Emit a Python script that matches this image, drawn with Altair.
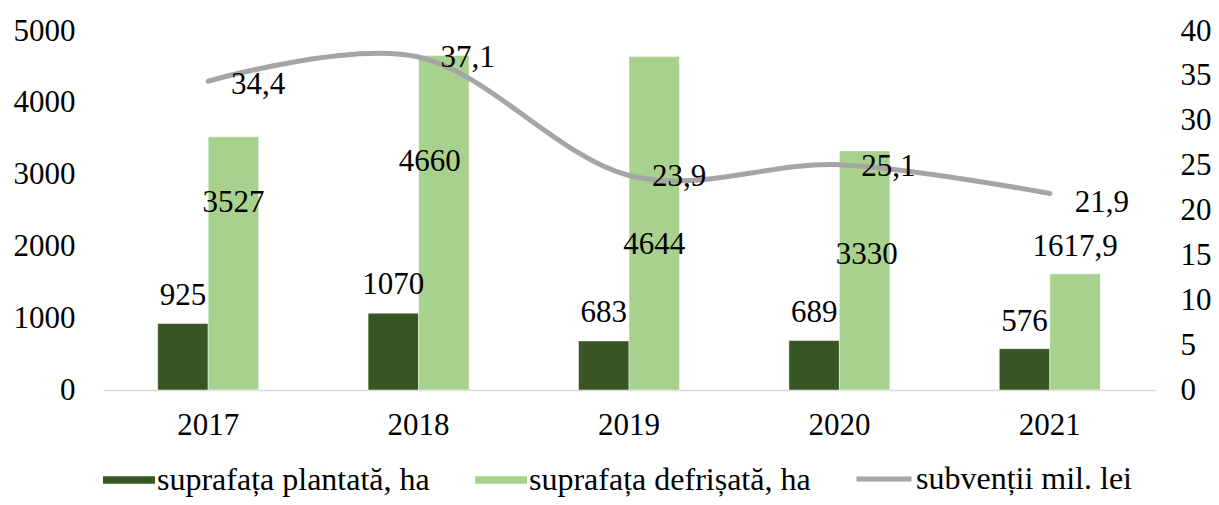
import altair as alt
import pandas as pd

years = ["2017", "2018", "2019", "2020", "2021"]
plantata = [925, 1070, 683, 689, 576]
defrisata = [3527, 4660, 4644, 3330, 1617.9]
subventii = [34.4, 37.1, 23.9, 25.1, 21.9]

s_plant = "suprafața plantată, ha"
s_defr = "suprafața defrișată, ha"
s_sub = "subvenții mil. lei"

# label offsets (pixels), as placed in the original
plant_dy = [-28, -28, -28, -28, -27]
defr_dy = [66, 107, 188, 104, -27]
defr_dx = [0, -14, 0, 2, 0]
sub_dy = [4, 1, 2, 2, 10]
sub_dx = [50, 49, 50, 49, 52]


def fmt(v):
    s = f"{v:g}"
    return s.replace(".", ",")


rows = []
for i, y in enumerate(years):
    rows.append({"year": y, "series": s_plant, "value": plantata[i],
                 "label": fmt(plantata[i]), "ldy": plant_dy[i], "ldx": 0})
for i, y in enumerate(years):
    rows.append({"year": y, "series": s_defr, "value": defrisata[i],
                 "label": fmt(defrisata[i]), "ldy": defr_dy[i], "ldx": defr_dx[i]})
bars_df = pd.DataFrame(rows)

line_df = pd.DataFrame({
    "year": years,
    "series": [s_sub] * len(years),
    "value": subventii,
    "label": [fmt(v) for v in subventii],
    "ldy": sub_dy,
    "ldx": sub_dx,
})

FONT = "Liberation Serif"
FS = 31
LFS = 32

x_enc = alt.X("year:N", sort=years,
              scale=alt.Scale(paddingInner=0.52, paddingOuter=0.26),
              axis=alt.Axis(title=None, labelAngle=0, ticks=False, domain=True,
                            domainColor="#D9D9D9", domainWidth=1.5,
                            labelPadding=20, labelFontSize=FS, labelFont=FONT,
                            labelColor="#000000", grid=False))

rect_path = "M-1,-0.145L1,-0.145L1,0.145L-1,0.145Z"
bar_legend = alt.Legend(
    title=None, orient="none", legendX=0, legendY=423, direction="horizontal",
    labelFont=FONT, labelFontSize=LFS, labelColor="#000000",
    symbolType=rect_path, symbolSize=2704, symbolStrokeWidth=0, symbolOpacity=1,
    labelOffset=2, columnPadding=45, padding=0, labelLimit=600,
)
line_legend = alt.Legend(
    title=None, orient="none", legendX=751, legendY=418, direction="horizontal",
    labelFont=FONT, labelFontSize=LFS, labelColor="#000000",
    symbolType="stroke", symbolSize=3025, symbolStrokeWidth=5, symbolOpacity=1,
    labelOffset=2, padding=0, labelLimit=600,
)

y_left = alt.Y("value:Q", scale=alt.Scale(domain=[0, 5000], nice=False),
               axis=alt.Axis(title=None, orient="left", values=[0, 1000, 2000, 3000, 4000, 5000],
                             format="d", domain=False, ticks=False, grid=False, labelPadding=28,
                             labelFontSize=FS, labelFont=FONT, labelColor="#000000"))

y_right = alt.Y("value:Q", scale=alt.Scale(domain=[0, 40], nice=False),
                axis=alt.Axis(title=None, orient="right", values=[0, 5, 10, 15, 20, 25, 30, 35, 40],
                              format="d", domain=False, ticks=False, grid=False, labelPadding=25,
                              labelFontSize=FS, labelFont=FONT, labelColor="#000000"))

xoff = alt.XOffset("series:N", sort=[s_plant, s_defr],
                   scale=alt.Scale(domain=[s_plant, s_defr], paddingInner=0, paddingOuter=0))

bars = alt.Chart(bars_df).mark_bar(stroke="#FFFFFF", strokeWidth=0.8, strokeOpacity=0.6).encode(
    x=x_enc,
    xOffset=xoff,
    y=y_left,
    fill=alt.Fill("series:N", scale=alt.Scale(domain=[s_plant, s_defr],
                                              range=["#375623", "#A9D18E"]),
                  legend=bar_legend),
)

bar_text = alt.Chart(bars_df).mark_text(
    font=FONT, fontSize=FS, color="#000000", baseline="middle", align="center",
    dy=alt.ExprRef("datum.ldy"), dx=alt.ExprRef("datum.ldx"),
).encode(
    x=x_enc,
    xOffset=xoff,
    y=y_left,
    text="label:N",
)

line = alt.Chart(line_df).mark_line(
    interpolate="cardinal", strokeWidth=5, strokeCap="round", strokeJoin="round"
).encode(
    x=x_enc,
    y=y_right,
    stroke=alt.Stroke("series:N", scale=alt.Scale(domain=[s_sub], range=["#A5A5A5"]),
                      legend=line_legend),
)

line_text = alt.Chart(line_df).mark_text(
    font=FONT, fontSize=FS, color="#000000", baseline="middle", align="center",
    dy=alt.ExprRef("datum.ldy"), dx=alt.ExprRef("datum.ldx"),
).encode(
    x=x_enc,
    y=y_right,
    text="label:N",
)

chart = alt.layer(
    alt.layer(bars, bar_text),
    alt.layer(line, line_text),
).resolve_scale(y="independent").properties(
    width=1052, height=359,
    autosize=alt.AutoSizeParams(type="none"),
    padding={"left": 95, "top": 23, "right": 56, "bottom": 107},
    background="#FFFFFF",
).configure(font=FONT).configure_view(stroke=None, strokeWidth=0).configure_text(font=FONT)

chart.save("out.html", embed_options={"renderer": "svg", "actions": False})
